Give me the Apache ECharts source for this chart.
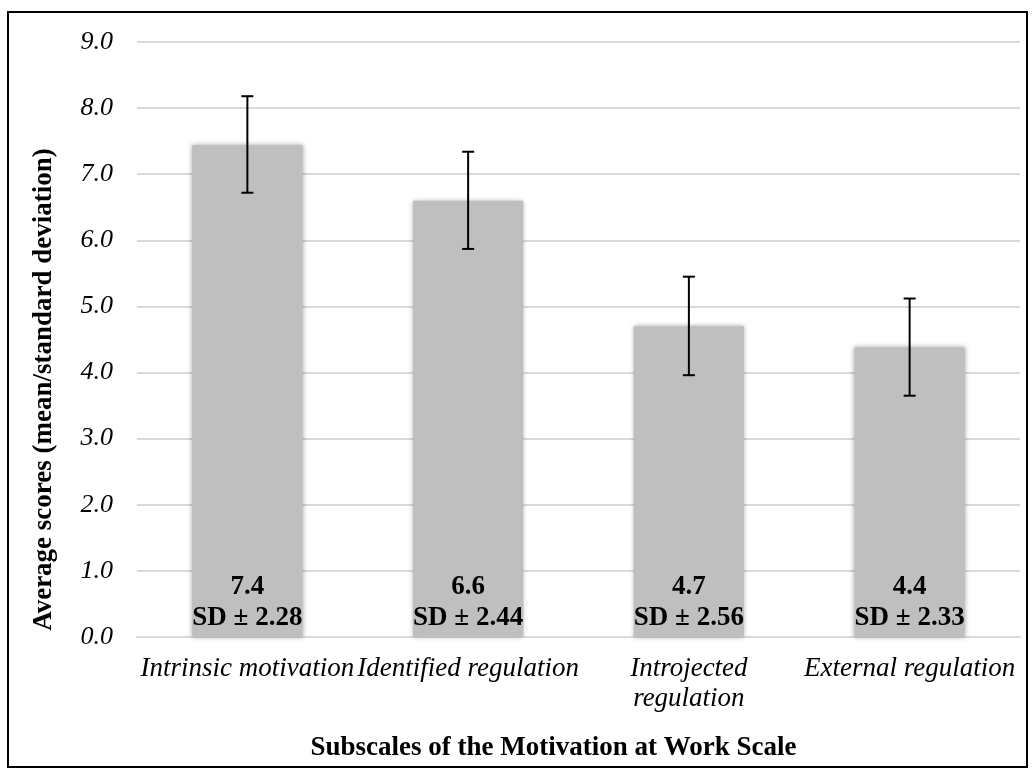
<!DOCTYPE html>
<html>
<head>
<meta charset="utf-8">
<script src="https://cdn.jsdelivr.net/npm/echarts@6/dist/echarts.min.js"></script>
<style>
  html, body { margin: 0; padding: 0; background: #ffffff; }
  #chart { width: 1036px; height: 780px; }
</style>
</head>
<body>
<div id="chart"></div>
<script>
const categories = ["Intrinsic motivation", "Identified regulation", "Introjected regulation", "External regulation"];
const tickLabels = ["Intrinsic motivation", "Identified regulation", "Introjected\nregulation", "External regulation"];
const means = [7.44, 6.60, 4.70, 4.38];
const sdValues = [2.28, 2.44, 2.56, 2.33];
const errLow = [6.72, 5.87, 3.96, 3.65];
const errHigh = [8.18, 7.34, 5.45, 5.12];
const yTicks = [0, 1, 2, 3, 4, 5, 6, 7, 8, 9];

const serif = "'Liberation Serif', 'Times New Roman', serif";

const chartDom = document.getElementById("chart");
const myChart = echarts.init(chartDom);

const option = {
  animation: false,
  backgroundColor: "#ffffff",
  graphic: [
    {
      type: "rect",
      shape: { x: 8, y: 12, width: 1019, height: 755 },
      style: { fill: "none", stroke: "#000000", lineWidth: 2 },
      z: 100
    }
  ],
  grid: {
    left: 137,
    right: 16,
    top: 42,
    bottom: 143
  },
  xAxis: {
    type: "category",
    data: categories,
    name: "Subscales of the Motivation at Work Scale",
    nameLocation: "middle",
    nameGap: 98,
    nameTextStyle: {
      fontFamily: serif,
      fontWeight: "bold",
      fontSize: 27,
      color: "#000000",
      padding: [0, 50, 0, 0]
    },
    axisLine: { show: true, lineStyle: { color: "#d9d9d9", width: 2 } },
    axisTick: { show: false },
    axisLabel: {
      interval: 0,
      margin: 17,
      fontFamily: serif,
      fontStyle: "italic",
      fontSize: 27,
      lineHeight: 30,
      color: "#000000",
      formatter: function (value, index) {
        return tickLabels[index];
      }
    }
  },
  yAxis: {
    type: "value",
    min: 0,
    max: 9,
    interval: 1,
    name: "Average scores (mean/standard deviation)",
    nameLocation: "middle",
    nameGap: 79,
    nameRotate: 90,
    nameTextStyle: {
      fontFamily: serif,
      fontWeight: "bold",
      fontSize: 27,
      color: "#000000",
      padding: [0, 100, 0, 0]
    },
    axisLine: { show: false },
    axisTick: { show: false },
    axisLabel: {
      margin: 24,
      fontFamily: serif,
      fontStyle: "italic",
      fontSize: 26,
      color: "#000000",
      formatter: function (v) {
        return yTicks.indexOf(v) >= 0 ? v.toFixed(1) : "";
      }
    },
    splitLine: { show: true, lineStyle: { color: "#d9d9d9", width: 2 } }
  },
  series: [
    {
      type: "bar",
      data: means,
      barWidth: "50%",
      itemStyle: {
        color: "#bfbfbf",
        shadowColor: "rgba(0, 0, 0, 0.35)",
        shadowBlur: 5
      },
      label: {
        show: true,
        position: "insideBottom",
        distance: 3,
        fontFamily: serif,
        fontWeight: "bold",
        fontSize: 27,
        lineHeight: 31,
        color: "#000000",
        formatter: function (p) {
          return p.value.toFixed(1) + "\nSD \u00b1 " + sdValues[p.dataIndex].toFixed(2);
        }
      },
      z: 2
    },
    {
      type: "custom",
      data: categories.map(function (c, i) { return [i, errLow[i], errHigh[i]]; }),
      renderItem: function (params, api) {
        const lo = api.coord([api.value(0), api.value(1)]);
        const hi = api.coord([api.value(0), api.value(2)]);
        const cap = 6;
        const style = { stroke: "#000000", lineWidth: 2 };
        return {
          type: "group",
          children: [
            { type: "line", shape: { x1: hi[0], y1: hi[1], x2: lo[0], y2: lo[1] }, style: style },
            { type: "line", shape: { x1: hi[0] - cap, y1: hi[1], x2: hi[0] + cap, y2: hi[1] }, style: style },
            { type: "line", shape: { x1: lo[0] - cap, y1: lo[1], x2: lo[0] + cap, y2: lo[1] }, style: style }
          ]
        };
      },
      z: 5
    }
  ]
};

myChart.setOption(option);
</script>
</body>
</html>
